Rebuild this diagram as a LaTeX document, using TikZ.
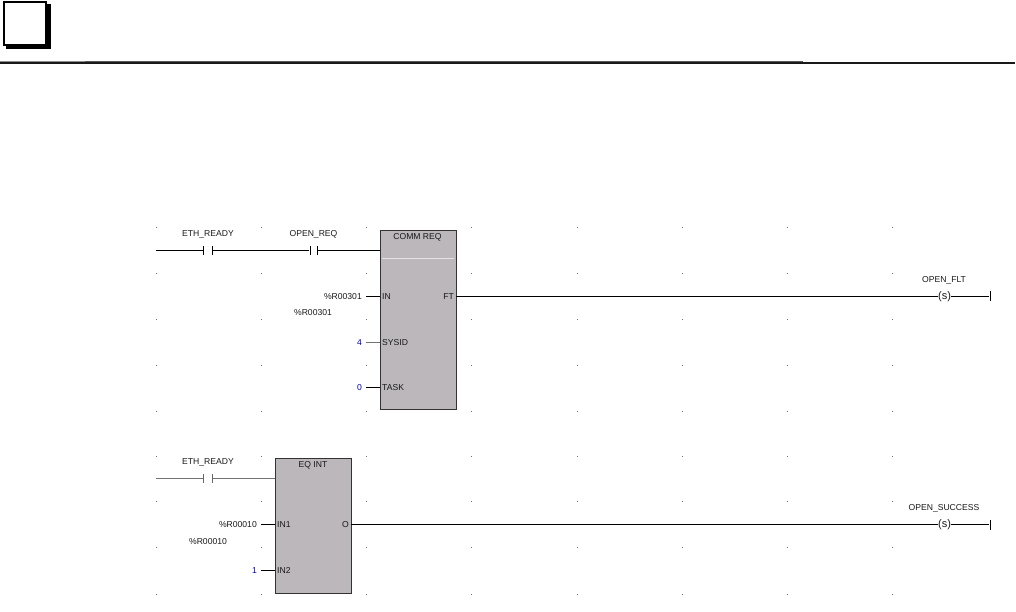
\documentclass[tikz,border=0pt]{standalone}
\usepackage{fontspec}
\setmainfont{Liberation Sans}
\usepackage{xcolor}
\definecolor{BlockGray}{HTML}{BBB7BB}
\definecolor{ConstBlue}{HTML}{0000C0}
\tikzset{
  rung/.style={black, line width=1pt},
  softrung/.style={black!55, line width=1pt},
  griddot/.style={fill=black!55, inner sep=0pt, minimum size=1pt},
  tag/.style={inner sep=0pt, font=\fontsize{8.6}{10}\selectfont, text=black!90, text height=6pt, text depth=0pt},
  pin/.style={tag, anchor=west, inner xsep=2pt},
  value/.style={tag, anchor=east, inner xsep=4pt},
  constval/.style={value, text=ConstBlue},
  contactbar/.style={fill=black, inner sep=0pt, minimum width=1pt, minimum height=9pt},
  softbar/.style={contactbar, fill=black!60},
  block/.style={draw=black!80, line width=1pt, fill=BlockGray, inner sep=0pt, anchor=north west},
  coil/.style={inner sep=0pt, font=\fontsize{11}{12}\selectfont, text=black!90, text height=8pt, text depth=2pt}
}
\begin{document}
\begin{tikzpicture}[x=1pt, y=-1pt]
\useasboundingbox (0,0) rectangle (1016,611);
% page heading
\fill[black] (6,4) rectangle (51,49);
\draw[black, fill=white, line width=2pt] (4,2) rectangle (46,44.5);
\fill[black!90] (0,62) rectangle (1015,63.5);
\fill[black!45] (0,61) rectangle (85,62);
\fill[black!65] (85,61) rectangle (803,62);
% grid dots
\foreach \gx in {156,261,366,471,577,682,787,892} {
  \foreach \gy in {227,273,319,365,411,456,501,547,594} {
    \node[griddot] at (\gx,\gy) {};
  }
}
% first rung
\node[block, minimum width=76pt, minimum height=179pt] (commreq) at (380,230) {};
\draw[white!60!BlockGray, line width=0.8pt] (382,258.5) -- (454,258.5);
\node[tag] (commtitle) at (417.5,236) {COMM REQ};
\coordinate (railA) at (156,250.5);
\node[contactbar] (ethL) at (203.5,250.5) {};
\node[contactbar] (ethR) at (212.5,250.5) {};
\node[contactbar] (reqL) at (310,250.5) {};
\node[contactbar] (reqR) at (317.5,250.5) {};
\node[tag] at (208,233) {ETH\_READY};
\node[tag] at (313.5,233) {OPEN\_REQ};
\draw[rung] (railA) -- (ethL);
\draw[rung] (ethR) -- (reqL);
\draw[rung] (reqR) -- (reqR -| commreq.west);
\node[pin] (pinIN) at (380,296) {IN};
\node[pin] (pinSYS) at (380,342) {SYSID};
\node[pin] (pinTASK) at (380,387.5) {TASK};
\node[tag, anchor=east, inner xsep=2pt] (pinFT) at (456,296) {FT};
\node[value] (valIN) at (366,296) {\%R00301};
\node[constval] (valSYS) at (366,342) {4};
\node[constval] (valTASK) at (366,387.5) {0};
\node[tag] at (313,312.5) {\%R00301};
\draw[rung] (valIN) -- (pinIN);
\draw[softrung] (valSYS) -- (pinSYS);
\draw[rung] (valTASK) -- (pinTASK);
\node[coil] (coilA) at (944.5,296) {(s)};
\node[contactbar, minimum height=10pt] (endA) at (990,296) {};
\node[tag] at (944,279) {OPEN\_FLT};
\draw[rung] (pinFT) -- (coilA);
\draw[rung] (coilA) -- (endA);
% second rung
\node[block, minimum width=76pt, minimum height=135pt] (eqint) at (275,458) {};
\node[tag] (eqtitle) at (313,464.5) {EQ INT};
\coordinate (railB) at (156,478.5);
\node[softbar] (ethbL) at (203.5,478.5) {};
\node[softbar] (ethbR) at (212.5,478.5) {};
\node[tag] at (208,461.5) {ETH\_READY};
\draw[softrung] (railB) -- (ethbL);
\draw[softrung] (ethbR) -- (ethbR -| eqint.west);
\node[pin] (pinONE) at (275,524.5) {IN1};
\node[pin] (pinTWO) at (275,570.5) {IN2};
\node[tag, anchor=east, inner xsep=2pt] (pinO) at (351,524.5) {O};
\node[value] (valONE) at (261,524.5) {\%R00010};
\node[constval] (valTWO) at (261,570.5) {1};
\node[tag] at (208,541) {\%R00010};
\draw[rung] (valONE) -- (pinONE);
\draw[rung] (valTWO) -- (pinTWO);
\node[coil] (coilB) at (944.5,524.5) {(s)};
\node[contactbar, minimum height=10pt] (endB) at (990,524.5) {};
\node[tag] at (944,507) {OPEN\_SUCCESS};
\draw[rung] (pinO) -- (coilB);
\draw[rung] (coilB) -- (endB);
\end{tikzpicture}
\end{document}
